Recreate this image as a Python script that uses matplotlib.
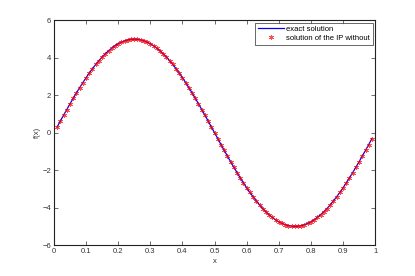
import matplotlib
matplotlib.use("Agg")
import matplotlib.pyplot as plt

x_vals = [0.01, 0.02, 0.03, 0.04, 0.05, 0.06, 0.07, 0.08, 0.09, 0.10,
          0.11, 0.12, 0.13, 0.14, 0.15, 0.16, 0.17, 0.18, 0.19, 0.20,
          0.21, 0.22, 0.23, 0.24, 0.25, 0.26, 0.27, 0.28, 0.29, 0.30,
          0.31, 0.32, 0.33, 0.34, 0.35, 0.36, 0.37, 0.38, 0.39, 0.40,
          0.41, 0.42, 0.43, 0.44, 0.45, 0.46, 0.47, 0.48, 0.49, 0.50,
          0.51, 0.52, 0.53, 0.54, 0.55, 0.56, 0.57, 0.58, 0.59, 0.60,
          0.61, 0.62, 0.63, 0.64, 0.65, 0.66, 0.67, 0.68, 0.69, 0.70,
          0.71, 0.72, 0.73, 0.74, 0.75, 0.76, 0.77, 0.78, 0.79, 0.80,
          0.81, 0.82, 0.83, 0.84, 0.85, 0.86, 0.87, 0.88, 0.89, 0.90,
          0.91, 0.92, 0.93, 0.94, 0.95, 0.96, 0.97, 0.98, 0.99]

exact_solution = [0.31, 0.63, 0.94, 1.24, 1.55, 1.84, 2.13, 2.41, 2.68, 2.94,
                  3.19, 3.42, 3.65, 3.85, 4.05, 4.22, 4.38, 4.52, 4.65, 4.76,
                  4.84, 4.91, 4.96, 4.99, 5.00, 4.99, 4.96, 4.91, 4.84, 4.76,
                  4.65, 4.52, 4.38, 4.22, 4.05, 3.85, 3.65, 3.42, 3.19, 2.94,
                  2.68, 2.41, 2.13, 1.84, 1.55, 1.24, 0.94, 0.63, 0.31, 0.00,
                  -0.31, -0.63, -0.94, -1.24, -1.55, -1.84, -2.13, -2.41, -2.68, -2.94,
                  -3.19, -3.42, -3.65, -3.85, -4.05, -4.22, -4.38, -4.52, -4.65, -4.76,
                  -4.84, -4.91, -4.96, -4.99, -5.00, -4.99, -4.96, -4.91, -4.84, -4.76,
                  -4.65, -4.52, -4.38, -4.22, -4.05, -3.85, -3.65, -3.42, -3.19, -2.94,
                  -2.68, -2.41, -2.13, -1.84, -1.55, -1.24, -0.94, -0.63, -0.31]

ip_solution = [0.31, 0.63, 0.94, 1.24, 1.55, 1.84, 2.13, 2.41, 2.68, 2.94,
               3.19, 3.42, 3.65, 3.85, 4.05, 4.22, 4.38, 4.52, 4.65, 4.76,
               4.84, 4.91, 4.96, 4.99, 5.00, 4.99, 4.96, 4.91, 4.84, 4.76,
               4.65, 4.52, 4.38, 4.22, 4.05, 3.85, 3.65, 3.42, 3.19, 2.94,
               2.68, 2.41, 2.13, 1.84, 1.55, 1.24, 0.94, 0.63, 0.31, 0.00,
               -0.31, -0.63, -0.94, -1.24, -1.55, -1.84, -2.13, -2.41, -2.68, -2.94,
               -3.19, -3.42, -3.65, -3.85, -4.05, -4.22, -4.38, -4.52, -4.65, -4.76,
               -4.84, -4.91, -4.96, -4.99, -5.00, -4.99, -4.96, -4.91, -4.84, -4.76,
               -4.65, -4.52, -4.38, -4.22, -4.05, -3.85, -3.65, -3.42, -3.19, -2.94,
               -2.68, -2.41, -2.13, -1.84, -1.55, -1.24, -0.94, -0.63, -0.31]

x_ticks = [0, 0.1, 0.2, 0.3, 0.4, 0.5, 0.6, 0.7, 0.8, 0.9, 1]
x_ticklabels = ["0", "0.1", "0.2", "0.3", "0.4", "0.5", "0.6", "0.7", "0.8", "0.9", "1"]
y_ticks = [-6, -4, -2, 0, 2, 4, 6]
y_ticklabels = ["\u22126", "\u22124", "\u22122", "0", "2", "4", "6"]

plt.rcParams['font.family'] = ['Liberation Sans', 'DejaVu Sans']
fig = plt.figure(figsize=(4.15, 2.76), dpi=100)
ax = fig.add_axes([0.13, 0.112, 0.774, 0.814])

ax.plot(x_vals, exact_solution, color='#0000ff', linewidth=0.9, label='exact solution', zorder=2)
ax.plot(x_vals, ip_solution, linestyle='none', marker=(6, 2, 0), markersize=3.6,
        color='#ff0000', markeredgewidth=0.5, alpha=0.7, label='solution of the IP without', zorder=3)

ax.set_xlim(0, 1)
ax.set_ylim(-6, 6)
ax.set_xticks(x_ticks)
ax.set_xticklabels(x_ticklabels)
ax.set_yticks(y_ticks)
ax.set_yticklabels(y_ticklabels)
ax.tick_params(direction='in', length=3, width=0.5, labelsize=5.5, colors='#333333',
               top=True, right=True, pad=2)
for s in ax.spines.values():
    s.set_linewidth(0.8)
    s.set_color('#222222')

ax.set_xlabel('x', fontsize=5.5, color='#333333', labelpad=2)
ax.set_ylabel('f(x)', fontsize=5.5, color='#333333', labelpad=1)

leg = ax.legend(loc='upper right', fontsize=5.5, frameon=True, fancybox=False,
                borderpad=0.35, labelspacing=0.25, handlelength=3.4, handletextpad=0.3,
                borderaxespad=0.3)
leg.get_frame().set_edgecolor('#222222')
leg.get_frame().set_linewidth(0.6)

fig.savefig('out.png', dpi=100)
